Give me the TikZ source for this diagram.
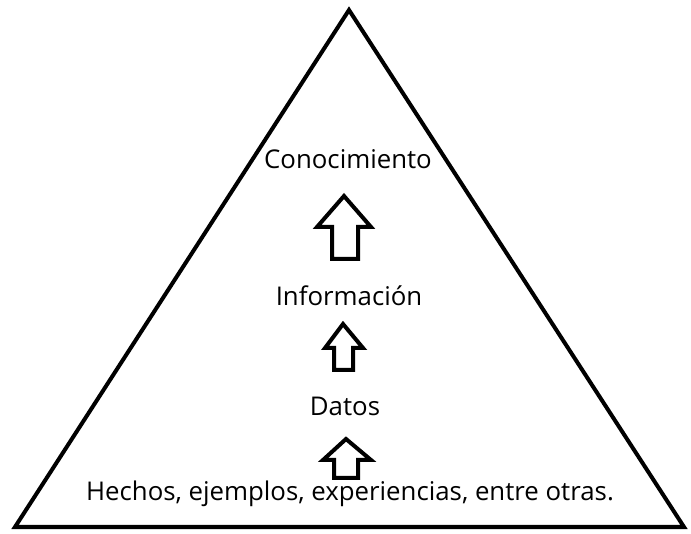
\documentclass[tikz,border=0pt]{standalone}
\usepackage{fontspec}
\setmainfont{Open Sans}
\begin{document}
\begin{tikzpicture}[x=1pt,y=1pt,
  lbl/.style={anchor=base,inner sep=0pt,font=\fontsize{25.8}{30}\selectfont},
  blockarrow/.style={draw=black,line width=4pt,line join=miter,fill=white}]
\useasboundingbox (0,0) rectangle (691,533);
\draw[line width=4pt,line join=miter] (15,6) -- (349,523) -- (684,6) -- cycle;
\node[lbl] (con) at (348,364) {Conocimiento};
\node[lbl] (inf) at (349,227) {Información};
\node[lbl] (dat) at (345,117) {Datos};
\node[lbl] (hec) at (350,32) {Hechos, ejemplos, experiencias, entre otras.};
% arrows
\draw[blockarrow] (332,274) -- (332,306) -- (317,306) -- (344,337) -- (371,306) -- (358,306) -- (358,274) -- cycle;
\draw[blockarrow] (334,163) -- (334,185) -- (325,185) -- (343,209) -- (363,185) -- (353,185) -- (353,163) -- cycle;
\draw[blockarrow] (334,55) -- (334,73) -- (323,73) -- (346,94) -- (371,73) -- (358,73) -- (358,55) -- cycle;
\end{tikzpicture}
\end{document}
